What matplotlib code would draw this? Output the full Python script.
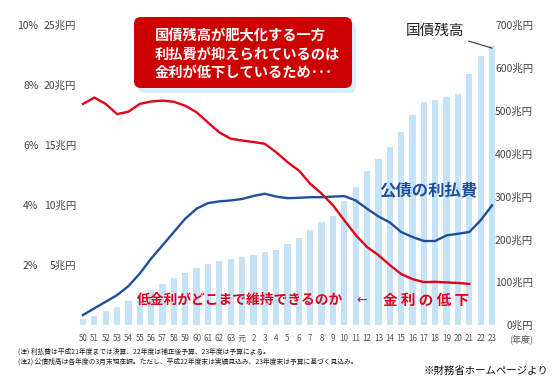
import matplotlib
matplotlib.use("Agg")
import matplotlib.pyplot as plt
from matplotlib.patches import FancyBboxPatch
from matplotlib.transforms import IdentityTransform
import numpy as np

plt.rcParams['font.family'] = ['Noto Sans CJK JP', 'DejaVu Sans']

# 年度ラベル（昭和50年度〜平成23年度）
years = ['50', '51', '52', '53', '54', '55', '56', '57', '58', '59', '60', '61', '62', '63',
         '元', '2', '3', '4', '5', '6', '7', '8', '9', '10', '11', '12', '13', '14', '15',
         '16', '17', '18', '19', '20', '21', '22', '23']

# 国債残高（兆円）
debt = [15, 22, 32, 43, 56, 70, 82, 96, 109, 121, 133, 143, 150, 155,
        159, 164, 170, 176, 190, 204, 222, 240, 255, 290, 323, 360, 387, 415, 450,
        490, 520, 525, 533, 540, 585, 627, 650]

# 公債の利払費（兆円）
interest = [0.83, 1.39, 1.94, 2.49, 3.24, 4.29, 5.54, 6.64, 7.75, 8.86, 9.69, 10.16, 10.3, 10.38,
            10.5, 10.75, 10.94, 10.7, 10.57, 10.6, 10.65, 10.65, 10.7, 10.74, 10.38, 9.69, 9.05,
            8.55, 7.75, 7.33, 7.0, 7.0, 7.47, 7.6, 7.75, 8.72, 9.97]

# 金利（%）昭和50年度〜平成21年度
rate = [7.37, 7.58, 7.37, 7.03, 7.11, 7.37, 7.45, 7.48, 7.44, 7.31, 7.09, 6.75, 6.42, 6.21,
        6.15, 6.10, 6.04, 5.76, 5.43, 5.15, 4.71, 4.38, 3.99, 3.49, 3.0, 2.60, 2.33, 2.0, 1.7,
        1.53, 1.43, 1.44, 1.42, 1.40, 1.37]

W, H = 555, 385
fig = plt.figure(figsize=(W / 100, H / 100), dpi=100)


def fx(x):
    return x / W


def fy(y):
    return 1 - y / H


x = np.arange(len(years))

ax = fig.add_axes([fx(77.3), fy(325), fx(497.7) - fx(77.3), fy(25) - fy(325)])
ax2 = ax.twinx()
ax3 = ax.twinx()

# 国債残高（棒）右軸
ax.bar(x, debt, width=0.55, color='#c5e3f7', zorder=1)
ax.set_xlim(-0.5, len(years) - 0.5)
ax.set_ylim(0, 700)
ax.yaxis.tick_right()
ax.set_yticks(range(0, 701, 100))
ax.set_yticklabels([f'{v}兆円' for v in range(0, 701, 100)])
for lb in ax.get_yticklabels():
    lb.set_horizontalalignment('right')
ax.tick_params(axis='y', left=False, labelleft=False, right=False, labelright=True,
               length=0, pad=25.5, labelsize=7.5, colors='#444444')
ax.set_xticks(x)
ax.set_xticklabels(years)
ax.tick_params(axis='x', length=0, pad=6.5, labelsize=5.8, colors='#555555')

# 公債の利払費（兆円）左軸
ax2.plot(x, interest, color='#1f4e9c', lw=1.7, zorder=3)
ax2.set_ylim(0, 25)
ax2.set_yticks([5, 10, 15, 20, 25])
ax2.set_yticklabels([f'{v}兆円' for v in [5, 10, 15, 20, 25]])
ax2.tick_params(axis='y', left=False, labelleft=True, right=False, labelright=False,
                length=0, pad=1, labelsize=7.5, colors='#444444')

# 金利（%）
ax3.plot(x[:len(rate)], rate, color='#e2001a', lw=1.7, zorder=3)
ax3.set_ylim(0, 10)
ax3.set_yticks([2, 4, 6, 8, 10])
ax3.set_yticklabels([f'{v}%' for v in [2, 4, 6, 8, 10]])
ax3.tick_params(axis='y', left=False, labelleft=True, right=False, labelright=False,
                length=0, pad=28, labelsize=7.5, colors='#444444')

for a in (ax, ax2, ax3):
    for s in a.spines.values():
        s.set_visible(False)

# 国債残高ラベル
ax3.annotate('国債残高', xy=(36, 646 / 70), xytext=(31.0, 686 / 70), ha='center', va='center',
             fontsize=10.5, color='#222222',
             arrowprops=dict(arrowstyle='-', color='#333333', lw=0.8, shrinkA=1, shrinkB=0))

# 赤い吹き出し
shadow = FancyBboxPatch((138, H - 93), 218, 71, boxstyle='round,pad=0,rounding_size=7',
                        transform=IdentityTransform(), fc='#d6ecfb', ec='none')
box = FancyBboxPatch((134, H - 88), 218, 71, boxstyle='round,pad=0,rounding_size=7',
                     transform=IdentityTransform(), fc='#cc0000', ec='none')
fig.patches.extend([shadow, box])
for txt, yy in [('国債残高が肥大化する一方', 36), ('利払費が抑えられているのは', 54.5),
                ('金利が低下しているため･･･', 73)]:
    fig.text(fx(155), fy(yy), txt, ha='left', va='center', fontsize=10.3,
             color='white', fontweight='bold')

fig.text(fx(428), fy(190), '公債の利払費', ha='center', va='center', fontsize=11.8,
         color='#1f4e9c', fontweight='bold')
fig.text(fx(137), fy(300), '低金利がどこまで維持できるのか', ha='left', va='center',
         fontsize=9.9, color='#e2001a', fontweight='bold')
fig.text(fx(362), fy(300), '←', ha='center', va='center', fontsize=9,
         color='#e2001a', family=['DejaVu Sans'])
fig.text(fx(426), fy(300), '金 利 の 低 下', ha='center', va='center', fontsize=10.5,
         color='#e2001a', fontweight='bold')

fig.text(fx(521), fy(339), '(年度)', ha='center', va='center', fontsize=6.5, color='#555555')

fig.text(fx(18), fy(352), '(注) 利払費は平成21年度までは決算、22年度は補正後予算、23年度は予算による。',
         ha='left', va='center', fontsize=4.9, color='#222222')
fig.text(fx(18), fy(362), '(注2) 公債残高は各年度の3月末現在額。ただし、平成22年度末は実績見込み、23年度末は予算に基づく見込み。',
         ha='left', va='center', fontsize=4.9, color='#222222')
fig.text(fx(548), fy(371), '※財務省ホームページより', ha='right', va='center', fontsize=7.5,
         color='#111111')

fig.savefig('out.png', dpi=100)
